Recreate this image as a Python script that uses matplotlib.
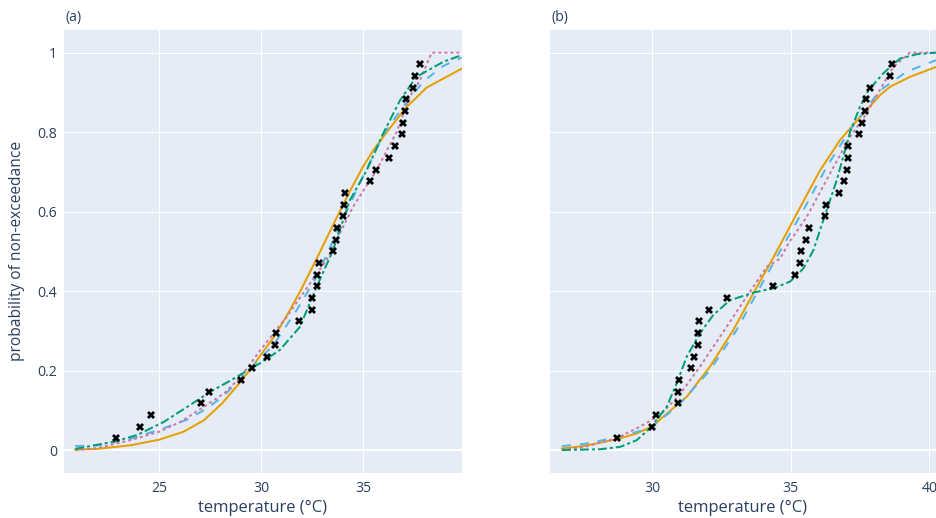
import matplotlib
matplotlib.use('Agg')
import matplotlib.pyplot as plt

plt.rcParams['font.family'] = ['Open Sans', 'DejaVu Sans']
plt.rcParams['lines.scale_dashes'] = False

# ---------------- data ----------------
# empirical non-exceedance probabilities i/34, i = 1..33
obs_p = [i / 34 for i in range(1, 34)]

obs_a = [22.9, 24.08, 24.6, 27.06, 27.45, 29.0, 29.55, 30.3, 30.68, 30.74, 31.87,
         32.47, 32.47, 32.73, 32.75, 32.85, 33.53, 33.66, 33.71, 33.99, 34.06, 34.1,
         35.33, 35.64, 36.27, 36.57, 36.89, 36.97, 37.05, 37.07, 37.45, 37.55, 37.79]
obs_b = [28.74, 30.0, 30.16, 30.93, 30.94, 30.96, 31.41, 31.53, 31.66, 31.67, 31.70,
         32.07, 32.72, 34.35, 35.16, 35.34, 35.36, 35.55, 35.67, 36.25, 36.27, 36.74,
         36.92, 37.02, 37.06, 37.08, 37.48, 37.56, 37.68, 37.72, 37.86, 38.58, 38.65]

# panel (a) fitted curves
a_orange_t = [20.9, 22.0, 23.6, 25.0, 26.2, 27.2, 28.1, 29.0, 29.5, 30.7, 31.3, 31.9,
              32.8, 33.7, 34.35, 35.0, 35.5, 36.15, 37.1, 38.1, 39.83]
a_orange_p = [0.001, 0.003, 0.012, 0.026, 0.046, 0.075, 0.118, 0.172, 0.205, 0.29, 0.342,
              0.398, 0.49, 0.585, 0.652, 0.714, 0.755, 0.80, 0.862, 0.912, 0.96]
a_blue_t = [20.9, 22.0, 23.6, 25.24, 26.4, 27.36, 28.2, 29.0, 30.6, 31.74, 32.72, 33.55,
            35.0, 36.06, 37.25, 38.0, 38.9, 39.83]
a_blue_p = [0.01, 0.012, 0.028, 0.055, 0.077, 0.105, 0.138, 0.18, 0.264, 0.352, 0.436,
            0.53, 0.69, 0.80, 0.885, 0.93, 0.966, 0.988]
a_pink_t = [20.9, 22.0, 23.6, 25.0, 26.06, 27.2, 28.2, 29.0, 29.94, 31.25, 32.39, 33.2,
            34.5, 35.65, 36.63, 37.28, 37.78, 38.35, 39.83]
a_pink_p = [0.0, 0.005, 0.025, 0.046, 0.071, 0.109, 0.143, 0.184, 0.25, 0.335, 0.419,
            0.478, 0.612, 0.704, 0.80, 0.889, 0.931, 1.0, 1.0]
a_green_t = [20.9, 22.8, 23.94, 25.24, 26.39, 27.53, 28.5, 29.16, 29.94, 30.92, 31.9,
             32.72, 33.5, 34.35, 35.17, 35.98, 36.8, 37.6, 38.92, 39.83]
a_green_p = [0.003, 0.021, 0.038, 0.071, 0.109, 0.147, 0.175, 0.195, 0.218, 0.252, 0.31,
             0.411, 0.50, 0.629, 0.704, 0.797, 0.88, 0.939, 0.977, 0.994]

# panel (b) fitted curves
b_orange_t = [26.75, 27.52, 28.73, 29.45, 29.99, 30.89, 31.25, 32.09, 32.93, 33.65, 34.37,
              35.0, 35.22, 36.06, 36.78, 37.5, 38.22, 38.58, 39.3, 40.24]
b_orange_p = [0.004, 0.01, 0.027, 0.042, 0.059, 0.113, 0.134, 0.21, 0.302, 0.394, 0.484,
              0.566, 0.595, 0.704, 0.78, 0.838, 0.893, 0.914, 0.939, 0.964]
b_blue_t = [26.75, 27.52, 28.73, 29.93, 30.89, 31.13, 32.09, 33.05, 33.77, 34.5, 35.46,
            36.3, 37.14, 38.22, 39.18, 40.24]
b_blue_p = [0.01, 0.015, 0.032, 0.055, 0.109, 0.126, 0.201, 0.302, 0.394, 0.486, 0.604,
            0.713, 0.805, 0.905, 0.952, 0.981]
b_pink_t = [26.75, 27.52, 28.73, 29.57, 30.29, 31.0, 31.73, 32.69, 33.41, 34.14, 34.62,
            34.92, 35.58, 36.42, 37.14, 37.74, 38.0, 38.7, 39.3, 40.24]
b_pink_p = [0.002, 0.007, 0.03, 0.059, 0.088, 0.14, 0.21, 0.31, 0.386, 0.461, 0.482,
            0.52, 0.587, 0.696, 0.788, 0.847, 0.88, 0.964, 1.0, 1.0]
b_green_t = [26.75, 28.12, 28.85, 29.45, 29.93, 30.53, 30.89, 31.25, 31.73, 32.21, 32.81,
             33.65, 34.37, 34.98, 35.46, 35.82, 36.18, 36.66, 37.14, 37.5, 37.8, 38.34,
             38.94, 39.54, 40.24]
b_green_p = [0.0, 0.002, 0.008, 0.025, 0.055, 0.109, 0.168, 0.235, 0.294, 0.34, 0.377,
             0.396, 0.407, 0.424, 0.457, 0.503, 0.579, 0.679, 0.80, 0.864, 0.905, 0.948,
             0.985, 0.996, 1.0]

y_ticks = [0, 0.2, 0.4, 0.6, 0.8, 1]
y_ticklabels = ['0', '0.2', '0.4', '0.6', '0.8', '1']
a_xticks = [25, 30, 35]
b_xticks = [30, 35, 40]

# ---------------- styling ----------------
W, H = 936, 518
TXT = '#2a3f5f'
BG = '#E5ECF6'
px = 0.72  # points per pixel at dpi 100

fig = plt.figure(figsize=(W / 100, H / 100), dpi=100)


def rect(l, t, r, b):
    return [l / W, 1 - b / H, (r - l) / W, (b - t) / H]


axA = fig.add_axes(rect(64, 30, 461.7, 472.7))
axB = fig.add_axes(rect(550, 30, 936, 472.7))

styles = {
    'orange': dict(color='#E69F00', linestyle='-'),
    'blue': dict(color='#56B4E9', linestyle=(0, (9 * px, 9 * px))),
    'pink': dict(color='#CC79A7', linestyle=(0, (3 * px, 3 * px))),
    'green': dict(color='#009E73', linestyle=(0, (9 * px, 3 * px, 3 * px, 3 * px))),
}

panels = [
    (axA, [(a_orange_t, a_orange_p, 'orange'), (a_blue_t, a_blue_p, 'blue'),
           (a_pink_t, a_pink_p, 'pink'), (a_green_t, a_green_p, 'green')],
     obs_a, (20.35, 39.82), a_xticks, '(a)', True),
    (axB, [(b_orange_t, b_orange_p, 'orange'), (b_blue_t, b_blue_p, 'blue'),
           (b_pink_t, b_pink_p, 'pink'), (b_green_t, b_green_p, 'green')],
     obs_b, (26.32, 40.24), b_xticks, '(b)', False),
]

for ax, curves, obs, xlim, xt, title, showy in panels:
    ax.set_facecolor(BG)
    for s in ax.spines.values():
        s.set_visible(False)
    ax.set_xlim(*xlim)
    ax.set_ylim(-0.057, 1.057)
    ax.set_xticks(xt)
    ax.set_xticklabels([str(v) for v in xt])
    ax.set_yticks(y_ticks)
    if showy:
        ax.set_yticklabels(y_ticklabels)
    else:
        ax.set_yticklabels([])
    ax.tick_params(length=0, labelsize=14 * px, colors=TXT)
    ax.tick_params(axis='x', pad=6)
    ax.tick_params(axis='y', pad=5)
    ax.grid(True, color='white', linewidth=1 * px)
    ax.set_axisbelow(True)
    ax.axhline(0, color='white', linewidth=2 * px, zorder=0.5)
    for t, p, key in curves:
        ax.plot(t, p, linewidth=2 * px, zorder=2, **styles[key])
    ax.plot(obs, obs_p, linestyle='none', marker='X', markersize=6,
            color='black', markeredgewidth=0, zorder=3)
    ax.set_xlabel('temperature (°C)', fontsize=16.5 * px, color=TXT, labelpad=3)
    ax.text(0.005, 1 + 12 / 442.7, title, transform=ax.transAxes, fontsize=14 * px,
            color=TXT, ha='left', va='center')

axA.set_ylabel('probability of non-exceedance', fontsize=15.5 * px, color=TXT, labelpad=9)

fig.savefig('out.png', dpi=100, facecolor='white')
